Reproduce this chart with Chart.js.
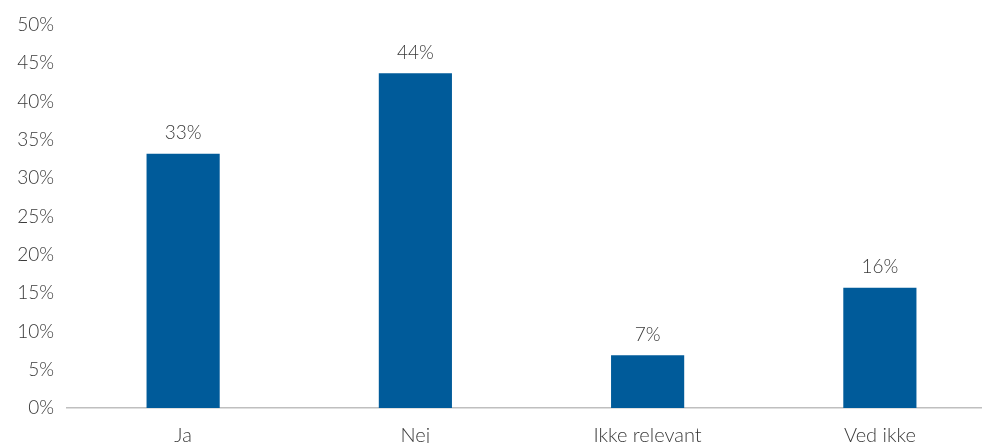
<!DOCTYPE html>
<html>
<head>
    <meta name="viewport" content="width=device-width, initial-scale=1.0">
    <script src="https://cdn.jsdelivr.net/npm/chart.js"></script>
    <style>
        html, body {
            margin: 0;
            padding: 0;
            overflow: hidden;
            background: #ffffff;
        }

        .chart-box {
            position: relative;
            width: 996px;
            height: 456px;
        }
    </style>
</head>
<body>
    <div class="chart-box">
        <canvas id="answerChart"></canvas>
    </div>

    <script>
        // Data
        const categories = ['Ja', 'Nej', 'Ikke relevant', 'Ved ikke'];
        const shares = [33.2, 43.7, 6.9, 15.7];
        const shareLabels = ['33%', '44%', '7%', '16%'];

        const textColor = '#3a3a3a';
        const fontFamily = 'Lato, "Open Sans", sans-serif';

        // Simple value labels above each bar
        const valueLabels = {
            id: 'valueLabels',
            afterDatasetsDraw(chart) {
                const ctx = chart.ctx;
                const meta = chart.getDatasetMeta(0);
                ctx.save();
                ctx.font = '300 19px ' + fontFamily;
                ctx.fillStyle = textColor;
                ctx.textAlign = 'center';
                ctx.textBaseline = 'bottom';
                meta.data.forEach((bar, i) => {
                    ctx.fillText(shareLabels[i], bar.x, bar.y - 11);
                });
                ctx.restore();
            }
        };

        new Chart(document.getElementById('answerChart'), {
            type: 'bar',
            data: {
                labels: categories,
                datasets: [{
                    data: shares,
                    backgroundColor: '#005B9A',
                    borderWidth: 0,
                    barPercentage: 0.315,
                    categoryPercentage: 1
                }]
            },
            options: {
                responsive: true,
                maintainAspectRatio: false,
                animation: false,
                layout: {
                    padding: { top: 25, right: 0, bottom: 0, left: 0 }
                },
                plugins: {
                    legend: { display: false },
                    tooltip: { enabled: false }
                },
                scales: {
                    x: {
                        grid: { display: false, drawTicks: false },
                        border: { color: '#bfbfbf', width: 1.5 },
                        ticks: {
                            color: textColor,
                            font: { family: fontFamily, size: 20, weight: 300 },
                            padding: 16,
                            maxRotation: 0
                        },
                        afterFit(scale) { scale.height = 48; }
                    },
                    y: {
                        min: 0,
                        max: 50,
                        grid: { display: false, drawTicks: false },
                        border: { display: false },
                        ticks: {
                            stepSize: 5,
                            color: textColor,
                            font: { family: fontFamily, size: 19, weight: 300 },
                            padding: 13,
                            callback: v => v + '%'
                        },
                        afterFit(scale) { scale.width = 67; }
                    }
                }
            },
            plugins: [valueLabels]
        });
    </script>
</body>
</html>
